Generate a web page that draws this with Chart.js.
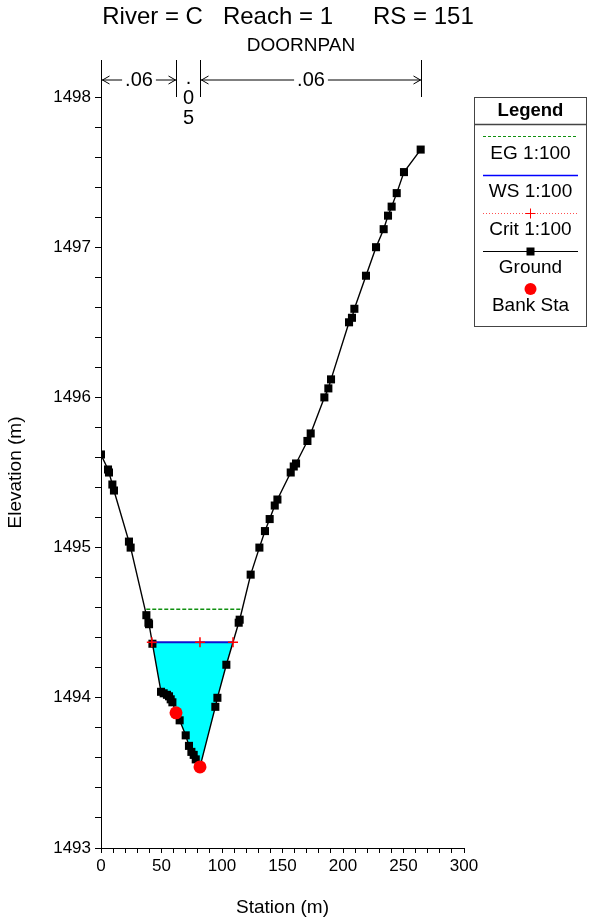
<!DOCTYPE html>
<html>
<head>
<meta charset="utf-8">
<script src="https://cdn.jsdelivr.net/npm/chart.js@4.4.1/dist/chart.umd.min.js"></script>
<style>
  html, body { margin: 0; padding: 0; background: #fff; }
  canvas { display: block; }
</style>
</head>
<body>
<canvas id="xs" width="589" height="921"></canvas>
<script>
// ── Cross section data ────────────────────────────────────────────
const groundSta = [0, 5.8, 6.6, 9.4, 10.7, 23.1, 24.5, 37.5, 39.2, 39.7, 42.5,
  49.6, 51.8, 54.5, 56.2, 57.6, 59.0, 62.0, 65.0, 70.0, 72.7, 74.7, 76.6, 78.3,
  81.8, 94.5, 96.2, 103.6, 113.8, 114.6, 123.7, 130.9, 135.5, 139.4, 143.6,
  145.8, 156.8, 159.3, 161.2, 170.6, 173.3, 184.6, 187.9, 190.1, 205.0, 207.4,
  209.4, 219.0, 227.3, 233.6, 237.2, 240.2, 244.4, 250.4, 264.2]
const groundElev = [1495.62, 1495.52, 1495.50, 1495.42, 1495.38, 1495.04,
  1495.00, 1494.55, 1494.50, 1494.49, 1494.36, 1494.04, 1494.03, 1494.02,
  1494.01, 1493.99, 1493.97, 1493.90, 1493.85, 1493.75, 1493.68, 1493.64,
  1493.62, 1493.59, 1493.54, 1493.94, 1494.00, 1494.22, 1494.50, 1494.52,
  1494.82, 1495.00, 1495.11, 1495.19, 1495.28, 1495.32, 1495.50, 1495.54,
  1495.56, 1495.71, 1495.76, 1496.00, 1496.06, 1496.12, 1496.50, 1496.53,
  1496.59, 1496.81, 1497.00, 1497.12, 1497.21, 1497.27, 1497.36, 1497.50,
  1497.65]

const bankSta  = [62.0, 81.8]
const bankElev = [1493.90, 1493.54]

const wsSta  = [42.0, 109.1]
const wsElev = 1494.37
const critSta = [42.0, 81.8, 109.1]
const critElev = 1494.37
const egSta  = [37.4, 116.5]
const egElev = 1494.59

// Manning's n zones
const nStations = [0, 62.0, 81.8, 264.2]
const nValues   = [".06", ".05", ".06"]

const FONT = "Arial, 'Liberation Sans', sans-serif"
const xy = (xs, ys) => xs.map((x, i) => ({ x, y: Array.isArray(ys) ? ys[i] : ys }))

// water polygon: ground below the WS, closed at the WS edges
const waterPts = [{ x: wsSta[0], y: wsElev }]
  .concat(xy(groundSta, groundElev).filter(p => p.x > wsSta[0] && p.x < wsSta[1]))
  .concat([{ x: wsSta[1], y: wsElev }])

// ── Titles, n-value bars and legend box ───────────────────────────
const decorPlugin = {
  id: "decor",
  afterDraw(chart) {
    const { ctx, chartArea, scales: { x } } = chart
    ctx.save()
    ctx.fillStyle = "#000"
    ctx.strokeStyle = "#000"
    ctx.lineWidth = 1
    ctx.textAlign = "center"
    ctx.textBaseline = "alphabetic"

    // title
    ctx.font = `24px ${FONT}`
    ctx.fillText("River = C   Reach = 1      RS = 151", 288, 24)
    ctx.font = `19px ${FONT}`
    ctx.fillText("DOORNPAN", 301, 51)

    // n values
    const top = 60, bot = chartArea.top, ay = 80
    const px = nStations.map(s => Math.round(x.getPixelForValue(s)) + 0.5)
    px.forEach(p => { ctx.beginPath(); ctx.moveTo(p, top); ctx.lineTo(p, bot); ctx.stroke() })
    ctx.font = `20px ${FONT}`
    nValues.forEach((t, i) => {
      const a = px[i], b = px[i + 1], mid = (a + b) / 2
      const w = ctx.measureText(t).width
      if (w + 16 < b - a) {
        ctx.textBaseline = "middle"
        ctx.fillText(t, mid, ay)
        const l1 = mid - w / 2 - 3, r1 = mid + w / 2 + 3
        ctx.beginPath()
        ctx.moveTo(a, ay); ctx.lineTo(l1, ay)
        ctx.moveTo(r1, ay); ctx.lineTo(b, ay)
        ctx.moveTo(a + 8, ay - 4); ctx.lineTo(a + 1, ay); ctx.lineTo(a + 8, ay + 4)
        ctx.moveTo(b - 8, ay - 4); ctx.lineTo(b - 1, ay); ctx.lineTo(b - 8, ay + 4)
        ctx.stroke()
      } else {
        ctx.textBaseline = "alphabetic"
        t.split("").forEach((c, k) => ctx.fillText(c, mid, 84 + k * 20))
      }
    })

    // legend
    const L = 474.5, T = 97.5, W = 112, H = 229, cx = L + W / 2
    ctx.strokeStyle = "#444"
    ctx.strokeRect(L, T, W, H)
    ctx.lineWidth = 1.5
    ctx.beginPath(); ctx.moveTo(L, 124.5); ctx.lineTo(L + W, 124.5); ctx.stroke()
    ctx.lineWidth = 1
    ctx.textBaseline = "middle"
    ctx.font = `bold 18.5px ${FONT}`
    ctx.fillText("Legend", cx, 111)
    ctx.font = `19px ${FONT}`
    const x0 = 483, x1 = 578
    const seg = (y, color, dash, w) => {
      ctx.save()
      ctx.strokeStyle = color; ctx.lineWidth = w; ctx.setLineDash(dash)
      ctx.beginPath(); ctx.moveTo(x0, y); ctx.lineTo(x1, y); ctx.stroke()
      ctx.restore()
    }
    seg(136.5, "#109010", [3, 2], 1.2)
    ctx.fillText("EG 1:100", cx, 154)
    seg(175.5, "#0000ff", [], 1.5)
    ctx.fillText("WS 1:100", cx, 192)
    seg(213.5, "#ff5050", [1, 2], 1)
    ctx.strokeStyle = "#ff0000"
    ctx.beginPath(); ctx.moveTo(cx - 5, 213.5); ctx.lineTo(cx + 5, 213.5)
    ctx.moveTo(cx, 208.5); ctx.lineTo(cx, 218.5); ctx.stroke()
    ctx.fillText("Crit 1:100", cx, 230)
    seg(251.5, "#000", [], 1.2)
    ctx.fillRect(cx - 4, 247.5, 8, 8)
    ctx.fillText("Ground", cx, 268)
    ctx.fillStyle = "#ff0000"
    ctx.beginPath(); ctx.arc(cx, 289, 6, 0, Math.PI * 2); ctx.fill()
    ctx.fillStyle = "#000"
    ctx.fillText("Bank Sta", cx, 306)
    ctx.restore()
  }
}

const isWhole = v => Math.abs(v - Math.round(v)) < 1e-6

new Chart(document.getElementById("xs"), {
  type: "scatter",
  data: {
    datasets: [
      {
        label: "Water",
        data: waterPts,
        showLine: true,
        borderWidth: 0,
        borderColor: "rgba(0,0,0,0)",
        backgroundColor: "#00ffff",
        fill: { value: wsElev },
        pointRadius: 0,
        order: 6
      },
      {
        label: "EG 1:100",
        data: xy(egSta, egElev),
        showLine: true,
        borderColor: "#109010",
        borderWidth: 1.5,
        borderDash: [4, 2],
        pointRadius: 0,
        order: 4
      },
      {
        label: "WS 1:100",
        data: xy(wsSta, wsElev),
        showLine: true,
        borderColor: "#1010d0",
        borderWidth: 2,
        pointRadius: 0,
        order: 2
      },
      {
        label: "Crit 1:100",
        data: xy(critSta, critElev),
        showLine: false,
        pointStyle: "cross",
        pointRadius: 5,
        borderWidth: 1.5,
        borderColor: "#ff0000",
        order: 1
      },
      {
        label: "Ground",
        data: xy(groundSta, groundElev),
        showLine: true,
        borderColor: "#000",
        borderWidth: 1.4,
        pointStyle: "rect",
        pointRadius: 5.7,
        pointBackgroundColor: "#000",
        pointBorderWidth: 0,
        order: 3
      },
      {
        label: "Bank Sta",
        data: xy(bankSta, bankElev),
        pointStyle: "circle",
        pointRadius: 6.5,
        pointBackgroundColor: "#ff0000",
        pointBorderWidth: 0,
        order: 0
      }
    ]
  },
  options: {
    responsive: false,
    animation: false,
    devicePixelRatio: 1,
    layout: { padding: { top: 97, right: 125, left: 0, bottom: 0 } },
    plugins: {
      legend: { display: false },
      tooltip: { enabled: false }
    },
    scales: {
      x: {
        type: "linear",
        min: 0, max: 300,
        afterFit: s => { s.height = 73 },
        border: { color: "#000", width: 1 },
        grid: { drawOnChartArea: false, tickLength: 5, tickColor: "#000" },
        ticks: {
          stepSize: 10, autoSkip: false, maxRotation: 0, padding: 3,
          color: "#000", font: { family: FONT, size: 17 },
          callback: v => (v % 50 === 0 ? v : "")
        },
        title: {
          display: true, text: "Station (m)", color: "#000",
          font: { family: FONT, size: 19 }, padding: { top: 0, bottom: 2 }
        }
      },
      y: {
        type: "linear",
        min: 1493, max: 1498,
        afterFit: s => { s.width = 101 },
        border: { color: "#000", width: 1 },
        grid: { drawOnChartArea: false, tickLength: 6, tickColor: "#000" },
        ticks: {
          stepSize: 0.2, autoSkip: false, padding: 4,
          color: "#000", font: { family: FONT, size: 17 },
          callback: v => (isWhole(v) ? Math.round(v) : "")
        },
        title: {
          display: true, text: "Elevation (m)", color: "#000",
          font: { family: FONT, size: 19 }, padding: { top: 4, bottom: 0 }
        }
      }
    }
  },
  plugins: [decorPlugin]
})
</script>
</body>
</html>
